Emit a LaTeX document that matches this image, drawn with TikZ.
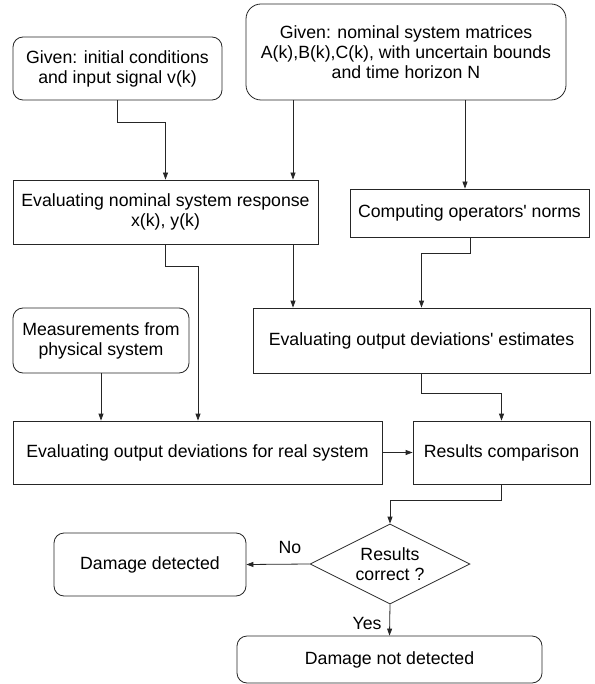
\documentclass[tikz,border=0pt]{standalone}
\usepackage{fontspec}
\setmainfont{Liberation Sans}
\usetikzlibrary{arrows.meta,shapes.geometric}
\tikzset{
  box/.style={draw=black!85, line width=0.8pt, align=center, inner sep=0pt,
    font=\fontsize{17.7}{20}\selectfont},
  rbox/.style={box, rounded corners=10pt},
  decision/.style={box, diamond, aspect=2},
  arr/.style={draw=black!85, line width=0.8pt, -{Triangle[length=7pt,width=5pt]}},
  lab/.style={font=\fontsize{17.7}{20}\selectfont, inner sep=0pt}
}
\begin{document}
\begin{tikzpicture}[x=1pt,y=-1pt]
\useasboundingbox[fill=white] (0,0) rectangle (594,684);
% nodes
\node[rbox, minimum width=209pt, minimum height=63pt] (init) at (117.5,68.5)
  {Given: initial conditions\\and input signal v(k)};
\node[box, rounded corners=15pt, minimum width=320pt, minimum height=96pt] (given) at (406,52)
  {Given: nominal system matrices\\A(k),B(k),C(k), with uncertain bounds\\and time horizon N};
\node[box, minimum width=305pt, minimum height=64pt] (nomresp) at (165.5,212)
  {Evaluating nominal system response\\x(k), y(k)};
\node[box, minimum width=239pt, minimum height=48pt] (norms) at (469.5,213)
  {Computing operators\textquotesingle{} norms};
\node[box, minimum width=337pt, minimum height=65pt] (estim) at (421.5,340.5)
  {Evaluating output deviations\textquotesingle{} estimates};
\node[rbox, minimum width=176pt, minimum height=65pt] (meas) at (101,340.5)
  {Measurements from\\physical system};
\node[box, minimum width=369pt, minimum height=63pt] (real) at (197.5,452.5)
  {Evaluating output deviations for real system};
\node[box, minimum width=177pt, minimum height=63pt] (comp) at (501.5,452.5)
  {Results comparison};
\node[decision, minimum width=160pt, minimum height=80pt] (dec) at (390,564)
  {Results\\correct ?};
\node[rbox, minimum width=192pt, minimum height=63pt] (dmg) at (150,564.5)
  {Damage detected};
\node[rbox, minimum width=305pt, minimum height=47pt] (nodmg) at (389.5,659.5)
  {Damage not detected};
% helper coordinates
\coordinate (xa) at (293,0);
\coordinate (xb) at (465,0);
\coordinate (xc) at (198,0);
\coordinate (xd) at (422,0);
\coordinate (xe) at (470,0);
\coordinate (ya) at (0,122);
\coordinate (yb) at (0,266);
\coordinate (yc) at (0,253);
\coordinate (yd) at (0,393);
\coordinate (ye) at (0,500);
% connectors
\draw[arr] (init.south) -- (init.south |- ya) -| (nomresp.north);
\draw[arr] (given.south -| xa) -- (nomresp.north -| xa);
\draw[arr] (given.south -| xb) -- (norms.north -| xb);
\draw[arr] (nomresp.south -| xa) -- (estim.north -| xa);
\draw[arr] (norms.south -| xe) -- (xe |- yc) -| (estim.north);
\draw[arr] (nomresp.south) -- (nomresp.south |- yb) -| (real.north -| xc);
\draw[arr] (meas.south) -- (real.north -| meas.south);
\draw[arr] (estim.south) -- (estim.south |- yd) -| (comp.north);
\draw[arr] (real.east) -- (comp.west);
\draw[arr] (comp.south) -- (comp.south |- ye) -| (dec.north);
\draw[arr] (dec.west) -- (dmg.east);
\draw[arr] (dec.south) -- (nodmg.north);
% labels
\node[lab] (no) at (290,547) {No};
\node[lab] (yes) at (367,623) {Yes};
\end{tikzpicture}
\end{document}
